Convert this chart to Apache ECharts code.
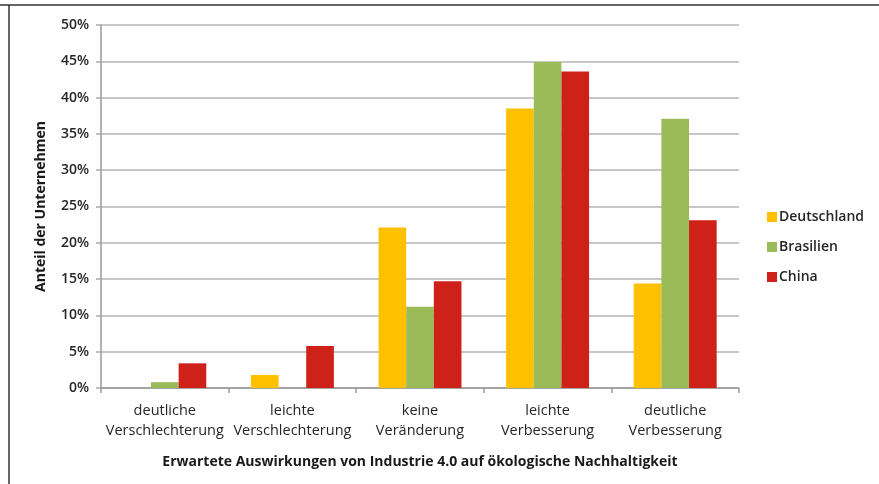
<!DOCTYPE html>
<html>
<head>
<meta charset="utf-8">
<style>
html,body{margin:0;padding:0;background:#fff;}
#c{width:879px;height:484px;}
</style>
<script src="https://cdn.jsdelivr.net/npm/echarts@6/dist/echarts.min.js"></script>
</head>
<body>
<div id="c"></div>
<script>
var categories = ['deutliche\nVerschlechterung', 'leichte\nVerschlechterung', 'keine\nVeränderung', 'leichte\nVerbesserung', 'deutliche\nVerbesserung'];
var deutschland = [0, 1.8, 22.1, 38.5, 14.4];
var brasilien = [0.8, 0, 11.2, 44.9, 37.1];
var china = [3.4, 5.8, 14.7, 43.6, 23.1];
var seriesNames = ['Deutschland', 'Brasilien', 'China'];
var colors = ['#FFC000', '#9BBB59', '#CD2119'];

var font = '"Open Sans", "Noto Sans", sans-serif';
var chart = echarts.init(document.getElementById('c'), null, {renderer: 'canvas'});
chart.setOption({
  animation: false,
  textStyle: {fontFamily: font},
  graphic: [
    {type: 'line', shape: {x1: 0, y1: 5, x2: 879, y2: 5}, style: {stroke: '#333', lineWidth: 1.5}, silent: true},
    {type: 'line', shape: {x1: 9, y1: 5, x2: 9, y2: 484}, style: {stroke: '#333', lineWidth: 1.5}, silent: true}
  ],
  grid: {left: 101, right: 140, top: 25, bottom: 96},
  legend: {
    orient: 'vertical',
    left: 762, top: 205,
    itemWidth: 10, itemHeight: 10, itemGap: 16,
    icon: 'rect',
    textStyle: {fontFamily: font, fontSize: 14, fontWeight: 600, color: '#262626', padding: [0, 0, 0, -3]},
    data: seriesNames
  },
  xAxis: {
    type: 'category',
    data: categories,
    name: 'Erwartete Auswirkungen von Industrie 4.0 auf ökologische Nachhaltigkeit',
    nameLocation: 'middle',
    nameGap: 67,
    nameTextStyle: {fontFamily: font, fontSize: 14, fontWeight: 'bold', color: '#1a1a1a'},
    axisLine: {lineStyle: {color: '#999', width: 1.5}},
    axisTick: {show: true, length: 5, lineStyle: {color: '#999', width: 1.5}},
    axisLabel: {fontFamily: font, fontSize: 14.5, color: '#262626', lineHeight: 20, margin: 13, interval: 0}
  },
  yAxis: {
    type: 'value',
    min: 0, max: 50, interval: 5,
    name: 'Anteil der Unternehmen',
    nameLocation: 'middle',
    nameGap: 53,
    nameTextStyle: {fontFamily: font, fontSize: 14, fontWeight: 'bold', color: '#1a1a1a'},
    axisLine: {show: true, lineStyle: {color: '#999', width: 1.5}},
    axisTick: {show: true, length: 5, lineStyle: {color: '#aaa', width: 1.5}},
    splitLine: {lineStyle: {color: '#b5b5b5', width: 1.5}},
    axisLabel: {fontFamily: font, fontSize: 14, fontWeight: 600, color: '#262626', margin: 12, formatter: '{value}%'}
  },
  series: [
    {name: seriesNames[0], type: 'bar', data: deutschland, itemStyle: {color: colors[0]}, barGap: '0%', barCategoryGap: '35%'},
    {name: seriesNames[1], type: 'bar', data: brasilien, itemStyle: {color: colors[1]}, barGap: '0%', barCategoryGap: '35%'},
    {name: seriesNames[2], type: 'bar', data: china, itemStyle: {color: colors[2]}, barGap: '0%', barCategoryGap: '35%'}
  ]
});
</script>
</body>
</html>
